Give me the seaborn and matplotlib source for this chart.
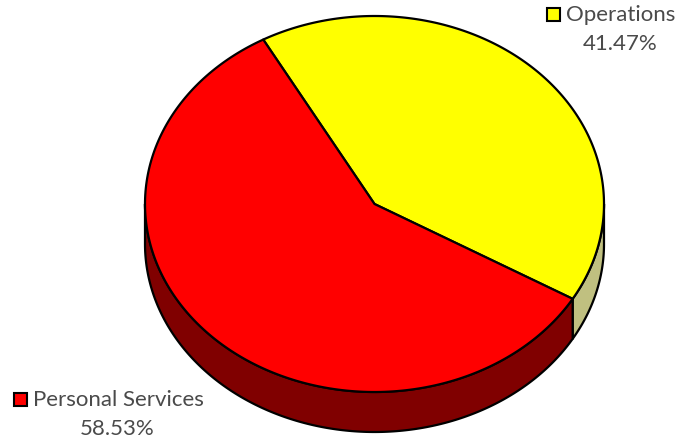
import numpy as np
import matplotlib
matplotlib.use("Agg")
import matplotlib.pyplot as plt
from matplotlib.patches import Polygon, Rectangle
import seaborn as sns

# Budget split
categories = ["Operations", "Personal Services"]
shares = [41.47, 58.53]
pct_labels = ["41.47%", "58.53%"]
top_colors = ["#FFFF00", "#FF0000"]
side_colors = ["#C0C080", "#800000"]

sns.set_style("white")
plt.rcParams["font.family"] = ["Lato", "DejaVu Sans"]

W, H = 678, 445
fig = plt.figure(figsize=(W / 100, H / 100), dpi=100)
ax = fig.add_axes([0, 0, 1, 1])
ax.set_xlim(0, W)
ax.set_ylim(H, 0)
ax.axis("off")

# Ellipse geometry of the pie top and its thickness
cx, cy, a, b, depth = 374.5, 204.0, 229.5, 188.0, 40.0
start = 119.0  # first slice starts here, running clockwise


def arc(t1, t2, n=200):
    t = np.radians(np.linspace(t1, t2, n))
    return cx + a * np.cos(t), cy - b * np.sin(t)


angles = np.array(shares) / sum(shares) * 360.0
spans = []
hi = start
for ang in angles:
    spans.append((hi - ang, hi))
    hi -= ang

lw = 1.6

# Front walls (visible where the rim faces the viewer: 180..360 degrees)
for (lo, hi), col in zip(spans, side_colors):
    for k in range(-1, 3):
        w0, w1 = 180 + 360 * k, 360 + 360 * k
        s0, s1 = max(lo, w0), min(hi, w1)
        if s1 > s0:
            x, y = arc(s0, s1)
            px = np.concatenate([x, x[::-1]])
            py = np.concatenate([y, (y + depth)[::-1]])
            ax.add_patch(Polygon(np.column_stack([px, py]), closed=True,
                                 facecolor=col, edgecolor="black", lw=lw,
                                 joinstyle="round"))

# Top faces
for (lo, hi), col in zip(spans, top_colors):
    x, y = arc(lo, hi)
    px = np.concatenate([[cx], x])
    py = np.concatenate([[cy], y])
    ax.add_patch(Polygon(np.column_stack([px, py]), closed=True,
                         facecolor=col, edgecolor="black", lw=lw,
                         joinstyle="round"))

# Labels with legend keys
label_pos = {"Operations": (566, 15, 620, 44), "Personal Services": (33, 400, 117, 429)}
txt_color = "#4a4a4a"
for cat, pct, col in zip(categories, pct_labels, top_colors):
    tx, ty, px_, py_ = label_pos[cat]
    ax.add_patch(Rectangle((tx - 19, ty - 7), 13, 13, facecolor=col,
                           edgecolor="black", lw=1.5))
    ax.text(tx, ty, cat, fontsize=16, color=txt_color, va="center",
            ha="left", fontweight="normal")
    ax.text(px_, py_, pct, fontsize=16, color=txt_color, va="center",
            ha="center", fontweight="normal")

fig.savefig("out.png", dpi=100)
